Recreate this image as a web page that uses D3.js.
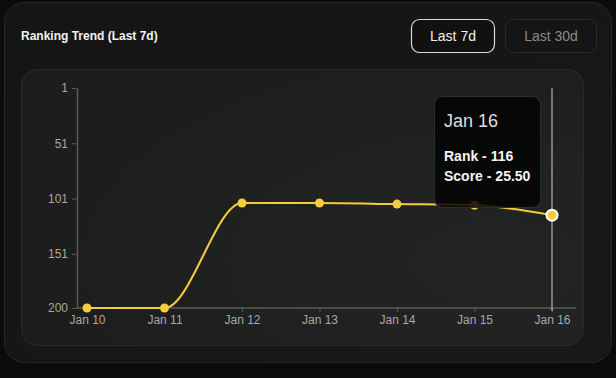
<!DOCTYPE html>
<html><head><meta charset="utf-8">
<script src="https://cdn.jsdelivr.net/npm/d3@7"></script>
<style>
html,body{margin:0;padding:0;background:#0b0b0b;}
svg{display:block;font-family:"Liberation Sans",Arial,Helvetica,sans-serif;}
</style></head>
<body>
<svg id="c" width="616" height="378"></svg>
<script>
const dates = ["Jan 10","Jan 11","Jan 12","Jan 13","Jan 14","Jan 15","Jan 16"];
const ranks = [200, 200, 105, 105, 106, 107, 116];
const scores = [null, null, null, null, null, null, 25.50];
const yTicks = [1, 51, 101, 151, 200];
const title = "Ranking Trend (Last 7d)";
const buttons = ["Last 7d", "Last 30d"];
const activeIndex = 6;
const FONT = "Liberation Sans, Arial, sans-serif";

const svg = d3.select("#c");
const defs = svg.append("defs");
const g1 = defs.append("linearGradient").attr("id","outerBg").attr("x1","0").attr("y1","0").attr("x2","1").attr("y2","1");
g1.append("stop").attr("offset","0").attr("stop-color","#151515");
g1.append("stop").attr("offset","1").attr("stop-color","#171818");
const g2 = defs.append("radialGradient").attr("id","innerBg").attr("cx","0.85").attr("cy","0.7").attr("r","0.8");
g2.append("stop").attr("offset","0").attr("stop-color","#232525");
g2.append("stop").attr("offset","1").attr("stop-color","#1d1d1d");

// outer card
svg.append("rect").attr("x",4.5).attr("y",2.5).attr("width",607).attr("height",360).attr("rx",20)
  .attr("fill","url(#outerBg)").attr("stroke","#262626");
svg.append("text").attr("x",21).attr("y",40).attr("fill","#f2f2f2").attr("font-size",12).attr("font-weight",700).text(title);

// buttons
const btn = [{x:411.5,w:83},{x:505.5,w:91}];
buttons.forEach((b,i)=>{
  svg.append("rect").attr("x",btn[i].x).attr("y",19.5).attr("width",btn[i].w).attr("height",33).attr("rx",8)
    .attr("fill", i===0 ? "#111" : "#151515").attr("stroke", i===0 ? "#d8d8d8" : "#2c2c2c").attr("stroke-width", i===0?1.2:1);
  svg.append("text").attr("x",btn[i].x+btn[i].w/2).attr("y",41).attr("text-anchor","middle")
    .attr("fill", i===0 ? "#f0f0f0" : "#8a8a8a").attr("font-size",14).text(b);
});

// inner card
svg.append("rect").attr("x",21.5).attr("y",69.5).attr("width",562).attr("height",276).attr("rx",16)
  .attr("fill","url(#innerBg)").attr("stroke","#2a2a2a");

const x = d3.scalePoint().domain(dates).range([87, 552]);
const y = d3.scaleLinear().domain([1, 200]).range([88, 308]);

// y axis
const ya = svg.append("g").attr("transform","translate(77,0)")
  .call(d3.axisLeft(y).tickValues(yTicks).tickSize(5).tickSizeOuter(0).tickPadding(4));
ya.select(".domain").attr("stroke","#5a5a5a").attr("stroke-width",1.5);
ya.selectAll(".tick line").attr("stroke","#5a5a5a");
ya.selectAll("text").attr("fill","#a8a8a8").attr("font-size",12).attr("font-family",FONT);

// x axis
const xa = svg.append("g").attr("transform","translate(0,308)")
  .call(d3.axisBottom(x).tickSize(4).tickSizeOuter(0).tickPadding(3));
xa.select(".domain").remove();
xa.insert("line",":first-child").attr("x1",77).attr("x2",576).attr("y1",0).attr("y2",0).attr("stroke","#5a5a5a").attr("stroke-width",1.5);
xa.selectAll(".tick line").attr("stroke","#5a5a5a");
xa.selectAll("text").attr("fill","#a8a8a8").attr("font-size",12).attr("font-family",FONT);

const data = dates.map((d,i)=>({d, r:ranks[i], s:scores[i]}));

// line
const line = d3.line().x(p=>x(p.d)).y(p=>y(p.r)).curve(d3.curveMonotoneX);
svg.append("path").datum(data).attr("d",line).attr("fill","none").attr("stroke","#f5cc3e").attr("stroke-width",2);

// points
svg.selectAll("circle.pt").data(data.filter((p,i)=>i!==activeIndex)).join("circle").attr("class","pt")
  .attr("cx",p=>x(p.d)).attr("cy",p=>y(p.r)).attr("r",4.5).attr("fill","#f5cc3e");

// crosshair
const act = data[activeIndex];
svg.append("line").attr("x1",x(act.d)).attr("x2",x(act.d)).attr("y1",y(1)).attr("y2",y(200)+3)
  .attr("stroke","#d0d0d0").attr("stroke-width",1);
svg.append("circle").attr("cx",x(act.d)).attr("cy",y(act.r)).attr("r",5.5)
  .attr("fill","#f5cc3e").attr("stroke","#ffffff").attr("stroke-width",2);

// tooltip
const tt = svg.append("g");
tt.append("rect").attr("x",434.5).attr("y",96.5).attr("width",106).attr("height",111).attr("rx",8)
  .attr("fill","#030303").attr("fill-opacity",0.85).attr("stroke","#2e2e2e");
tt.append("text").attr("x",444).attr("y",127).attr("fill","#dedede").attr("font-size",18).text(act.d);
tt.append("text").attr("x",444).attr("y",161).attr("fill","#f5f5f5").attr("font-size",14).attr("font-weight",700).text("Rank - " + act.r);
tt.append("text").attr("x",444).attr("y",181).attr("fill","#f5f5f5").attr("font-size",14).attr("font-weight",700).text("Score - " + act.s.toFixed(2));
</script>
</body></html>
